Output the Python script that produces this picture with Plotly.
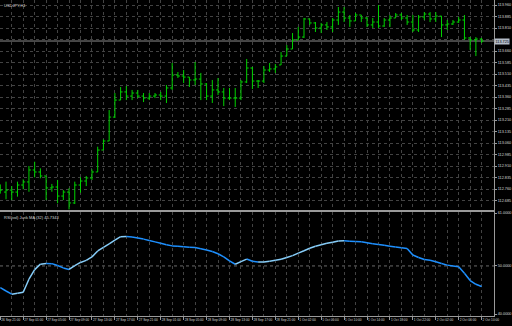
import plotly.graph_objects as go

# ---------------- data ----------------
symbol_title = "USDJPY,H1"
indicator_title = "RSI(vol) Jurik MA (32) 45.7343"

opens = [112.770, 112.740, 112.753, 112.740, 112.786, 112.806, 112.884, 112.871, 112.845, 112.767,
         112.773, 112.714, 112.740, 112.669, 112.786, 112.812, 112.832, 112.871, 113.014, 113.073,
         113.229, 113.340, 113.393, 113.366, 113.386, 113.366, 113.353, 113.366, 113.373, 113.366,
         113.419, 113.503, 113.497, 113.490, 113.471, 113.477, 113.445, 113.366, 113.406, 113.393,
         113.353, 113.353, 113.353, 113.458, 113.549, 113.464, 113.464, 113.536, 113.543, 113.569,
         113.627, 113.673, 113.732, 113.751, 113.869, 113.843, 113.810, 113.830, 113.817, 113.862,
         113.914, 113.875, 113.856, 113.895, 113.875, 113.830, 113.849, 113.823, 113.862, 113.875,
         113.895, 113.875, 113.849, 113.797, 113.882, 113.901, 113.869, 113.888, 113.830, 113.836,
         113.849, 113.862, 113.745, 113.732, 113.738]
highs = [112.790, 112.808, 112.779, 112.808, 112.823, 112.910, 112.938, 112.895, 112.845, 112.793,
         112.819, 112.753, 112.765, 112.808, 112.836, 112.845, 112.888, 113.036, 113.084, 113.275,
         113.386, 113.425, 113.432, 113.406, 113.406, 113.386, 113.386, 113.386, 113.393, 113.438,
         113.582, 113.523, 113.536, 113.490, 113.588, 113.517, 113.451, 113.471, 113.484, 113.419,
         113.419, 113.419, 113.471, 113.608, 113.556, 113.471, 113.562, 113.582, 113.575, 113.653,
         113.699, 113.777, 113.817, 113.875, 113.869, 113.849, 113.843, 113.849, 113.875, 113.947,
         113.947, 113.895, 113.908, 113.895, 113.882, 113.875, 113.960, 113.875, 113.895, 113.908,
         113.908, 113.895, 113.895, 113.895, 113.914, 113.914, 113.914, 113.888, 113.862, 113.862,
         113.882, 113.895, 113.751, 113.751, 113.745]
lows = [112.730, 112.693, 112.688, 112.710, 112.758, 112.742, 112.836, 112.830, 112.688, 112.742,
        112.667, 112.688, 112.627, 112.662, 112.736, 112.779, 112.819, 112.871, 113.014, 113.073,
        113.223, 113.340, 113.340, 113.340, 113.353, 113.327, 113.340, 113.353, 113.340, 113.321,
        113.406, 113.484, 113.451, 113.425, 113.438, 113.340, 113.340, 113.321, 113.373, 113.301,
        113.340, 113.295, 113.340, 113.451, 113.412, 113.419, 113.451, 113.523, 113.517, 113.569,
        113.627, 113.673, 113.732, 113.745, 113.830, 113.784, 113.777, 113.797, 113.784, 113.830,
        113.849, 113.817, 113.856, 113.849, 113.817, 113.810, 113.810, 113.817, 113.817, 113.875,
        113.862, 113.830, 113.784, 113.784, 113.862, 113.849, 113.849, 113.751, 113.797, 113.830,
        113.843, 113.732, 113.667, 113.627, 113.712]
closes = [112.753, 112.753, 112.740, 112.786, 112.806, 112.884, 112.871, 112.845, 112.767, 112.773,
          112.714, 112.740, 112.669, 112.786, 112.812, 112.832, 112.871, 113.014, 113.073, 113.229,
          113.340, 113.393, 113.366, 113.386, 113.366, 113.353, 113.366, 113.373, 113.366, 113.419,
          113.503, 113.497, 113.490, 113.471, 113.477, 113.445, 113.366, 113.406, 113.393, 113.353,
          113.353, 113.353, 113.458, 113.549, 113.464, 113.464, 113.536, 113.543, 113.556, 113.627,
          113.673, 113.732, 113.751, 113.869, 113.843, 113.810, 113.830, 113.817, 113.862, 113.914,
          113.875, 113.856, 113.895, 113.875, 113.830, 113.849, 113.823, 113.862, 113.875, 113.895,
          113.875, 113.849, 113.797, 113.882, 113.901, 113.869, 113.888, 113.830, 113.836, 113.849,
          113.862, 113.745, 113.732, 113.738, 113.725]

jurik_rsi = [45.50, 44.79, 44.13, 44.34, 44.54, 47.24, 49.23, 50.37, 50.52, 50.48,
             50.08, 49.59, 49.27, 50.08, 50.73, 51.16, 51.89, 53.11, 53.86, 54.59,
             55.37, 56.08, 56.14, 56.04, 55.83, 55.58, 55.29, 55.00, 54.71, 54.40,
             54.17, 54.09, 54.00, 53.90, 53.82, 53.59, 53.30, 53.01, 52.53, 51.89,
             51.06, 50.35, 50.89, 51.43, 50.98, 50.81, 50.83, 51.00, 51.20, 51.39,
             51.76, 52.14, 52.66, 53.15, 53.67, 54.09, 54.40, 54.71, 54.94, 55.19,
             55.23, 55.15, 55.08, 55.02, 54.81, 54.63, 54.46, 54.30, 54.11, 53.96,
             53.78, 53.65, 52.28, 51.76, 51.33, 51.18, 50.89, 50.50, 50.17, 50.00,
             49.85, 48.49, 46.97, 46.18, 45.73]

time_labels = ["26 Sep 21:00", "27 Sep 01:00", "27 Sep 05:00", "27 Sep 09:00", "27 Sep 13:00",
               "27 Sep 17:00", "27 Sep 21:00", "28 Sep 01:00", "28 Sep 05:00", "28 Sep 09:00",
               "28 Sep 13:00", "28 Sep 17:00", "28 Sep 21:00", "1 Oct 02:00", "1 Oct 06:00",
               "1 Oct 10:00", "1 Oct 14:00", "1 Oct 18:00", "1 Oct 22:00", "2 Oct 02:00",
               "2 Oct 06:00", "2 Oct 10:00"]

# grid price levels; the one hidden under the current-price box has an empty label
price_levels = [113.960, 113.885, 113.810, 113.735, 113.660, 113.585, 113.510,
                113.435, 113.360, 113.285, 113.210, 113.135, 113.060, 112.985,
                112.910, 112.835, 112.760, 112.685]
price_labels = ["113.960", "113.885", "113.810", "", "113.660", "113.585", "113.510",
                "113.435", "113.360", "113.285", "113.210", "113.135", "113.060", "112.985",
                "112.910", "112.835", "112.760", "112.685"]

ind_values = [61.0, 50.0, 40.0]
ind_labels = ["61.0000", "50.0000", "40.0000"]
ind_levels = [50.0]

# ---------------- styling ----------------
BG = "#000000"
GREEN = "#00d200"
GRID = "#434343"
FRAME = "#9a9a9a"
TXT = "#d8d8d8"
RISE = "#87CEFA"
FALL = "#1E90FF"
FONT = "Liberation Sans"

idx = list(range(len(closes)))
label_pos = list(range(0, len(closes), 4))[:len(time_labels)]

fig = go.Figure()

fig.add_trace(go.Ohlc(
    x=idx, open=opens, high=highs, low=lows, close=closes,
    increasing=dict(line=dict(color=GREEN, width=1)),
    decreasing=dict(line=dict(color=GREEN, width=1)),
    tickwidth=0.35, xaxis="x", yaxis="y", hoverinfo="skip"))

# indicator: falling segments (dodger blue) and rising segments (light sky blue)
fx, fy, rx, ry = [], [], [], []
for i in range(len(jurik_rsi) - 1):
    if jurik_rsi[i + 1] >= jurik_rsi[i]:
        rx += [idx[i], idx[i + 1], None]
        ry += [jurik_rsi[i], jurik_rsi[i + 1], None]
    else:
        fx += [idx[i], idx[i + 1], None]
        fy += [jurik_rsi[i], jurik_rsi[i + 1], None]

fig.add_trace(go.Scatter(x=fx, y=fy, mode="lines", line=dict(color=FALL, width=1.5),
                         xaxis="x2", yaxis="y2", hoverinfo="skip", connectgaps=False))
fig.add_trace(go.Scatter(x=rx, y=ry, mode="lines", line=dict(color=RISE, width=1.5),
                         xaxis="x2", yaxis="y2", hoverinfo="skip", connectgaps=False))

xr = [-0.05, 86.16]
grid_common = dict(showgrid=True, gridcolor=GRID, griddash="dot", gridwidth=1, zeroline=False,
                   minor=dict(tick0=0, dtick=2, showgrid=True, gridcolor=GRID, griddash="dot",
                              gridwidth=1, ticks=""))

fig.update_layout(
    width=512, height=326,
    margin=dict(l=0, r=18, t=0, b=10),
    paper_bgcolor=BG, plot_bgcolor=BG, showlegend=False,
    font=dict(family=FONT, color=TXT, size=4),
    xaxis=dict(domain=[0, 1], anchor="y", range=xr, rangeslider=dict(visible=False),
               tickmode="array", tickvals=label_pos, showticklabels=False, ticks="",
               showline=True, linecolor=FRAME, linewidth=1, mirror=True, **grid_common),
    yaxis=dict(domain=[0.3354, 1], anchor="x", side="right", range=[112.623, 113.9926],
               tickmode="array", tickvals=price_levels, ticktext=price_labels,
               showgrid=True, gridcolor=GRID, griddash="dot", gridwidth=1, zeroline=False,
               ticks="outside", ticklen=2, tickcolor=FRAME,
               tickfont=dict(size=3.8, color=TXT, family=FONT),
               showline=True, linecolor=FRAME, linewidth=1, mirror=True),
    xaxis2=dict(domain=[0, 1], anchor="y2", range=xr, matches="x",
                tickmode="array", tickvals=label_pos, ticktext=time_labels, tickangle=0,
                ticklabelposition="outside right", ticks="outside", ticklen=3, tickcolor=FRAME,
                tickfont=dict(size=3.2, color=TXT, family=FONT),
                showline=True, linecolor=FRAME, linewidth=1, mirror=True, **grid_common),
    yaxis2=dict(domain=[0, 0.329], anchor="x2", side="right", range=[39.59, 61.21],
                tickmode="array", tickvals=ind_values, ticktext=ind_labels,
                showgrid=False, zeroline=False, ticks="outside", ticklen=2, tickcolor=FRAME,
                tickfont=dict(size=3.8, color=TXT, family=FONT),
                showline=True, linecolor=FRAME, linewidth=1, mirror=True),
)

shapes = []
# bid line at last close
shapes.append(dict(type="line", xref="paper", x0=0, x1=1, yref="y", y0=closes[-1], y1=closes[-1],
                   line=dict(color="#8c8c8c", width=1), layer="below"))
for lv in ind_levels:
    shapes.append(dict(type="line", xref="paper", x0=0, x1=1, yref="y2", y0=lv, y1=lv,
                       line=dict(color="#6a6a6a", width=1, dash="dot"), layer="below"))
fig.update_layout(shapes=shapes)

fig.add_annotation(text=symbol_title, xref="paper", yref="paper", x=0.004, y=0.997,
                   xanchor="left", yanchor="top", showarrow=False,
                   font=dict(size=4, color=TXT, family=FONT))
fig.add_annotation(text=indicator_title, xref="paper", yref="paper", x=0.004, y=0.326,
                   xanchor="left", yanchor="top", showarrow=False,
                   font=dict(size=4, color=TXT, family=FONT))
fig.add_annotation(text=f"{closes[-1]:.3f}", xref="paper", yref="y", x=1.0, y=closes[-1],
                   xanchor="left", yanchor="middle", showarrow=False, bgcolor="#b4bcc8",
                   borderpad=0.5, font=dict(size=3.8, color="#000000", family=FONT))

fig.write_html("out.html")
